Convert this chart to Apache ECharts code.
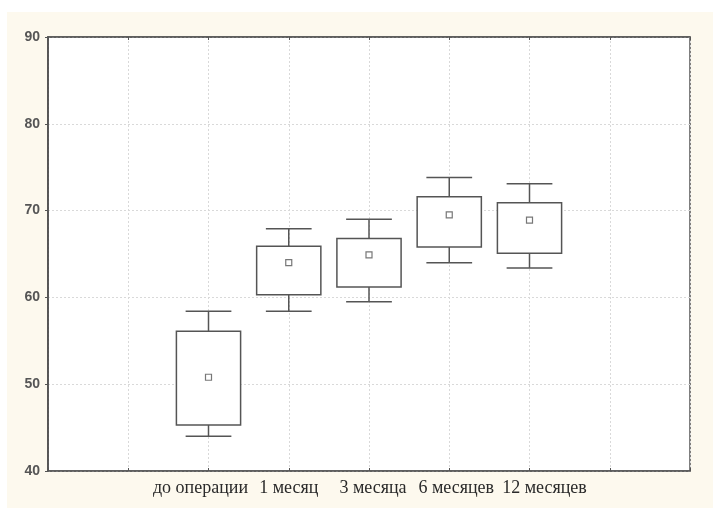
<!DOCTYPE html>
<html>
<head>
<meta charset="utf-8">
<script src="https://cdn.jsdelivr.net/npm/echarts@6/dist/echarts.min.js"></script>
<style>
  html, body { margin: 0; padding: 0; background: #ffffff; }
  #chart { width: 713px; height: 508px; }
</style>
</head>
<body>
<div id="chart"></div>
<script>
// Follow-up groups along the horizontal axis
const categories = ['до операции', '1 месяц', '3 месяца', '6 месяцев', '12 месяцев'];
// Whisker ends, box edges and group means
const whiskerLow  = [44.0, 58.4, 59.5, 64.0, 63.4];
const boxLow      = [45.3, 60.3, 61.2, 65.8, 65.1];
const boxHigh     = [56.1, 65.9, 66.8, 71.6, 70.9];
const whiskerHigh = [58.4, 67.9, 69.0, 73.8, 73.1];
const means       = [50.8, 64.0, 64.9, 69.5, 68.9];
// Value-axis ticks
const yTicks = [40, 50, 60, 70, 80, 90];

// Groups sit at positions 2..6 on a 0..8 horizontal scale
const OFFSET = 2;
const boxData = categories.map((c, i) => [i + OFFSET, whiskerLow[i], boxLow[i], boxHigh[i], whiskerHigh[i]]);
const meanData = categories.map((c, i) => [i + OFFSET, means[i]]);

// small per-label horizontal nudges (px, positive = right)
const labelShift = [-8, 0, 4, 7, 15];
const rich = {};
labelShift.forEach((s, i) => {
  rich['c' + i] = {
    fontFamily: '"Liberation Serif", "Times New Roman", serif',
    fontSize: 18,
    color: '#2a2a2a',
    padding: s >= 0 ? [0, 0, 0, 2 * s] : [0, -2 * s, 0, 0]
  };
});

const LINE = '#555555';
const GRID = '#d9d9d9';

const chart = echarts.init(document.getElementById('chart'));
chart.setOption({
  animation: false,
  backgroundColor: '#ffffff',
  graphic: [{
    type: 'rect',
    z: -100,
    silent: true,
    shape: { x: 7, y: 12, width: 706, height: 496 },
    style: { fill: '#fdf9ee' }
  }],
  grid: {
    left: 48, right: 23, top: 37, bottom: 37,
    show: true,
    backgroundColor: '#ffffff',
    borderColor: LINE,
    borderWidth: 1.5
  },
  xAxis: [{
    type: 'value',
    min: 0, max: 8, interval: 1,
    position: 'bottom',
    axisLine: { show: true, lineStyle: { color: LINE, width: 1.5 } },
    axisTick: { show: true, inside: true, length: 3, lineStyle: { color: LINE } },
    splitLine: { show: true, lineStyle: { color: GRID, type: [2, 2], width: 1 } },
    axisLabel: {
      margin: 8,
      showMinLabel: true, showMaxLabel: true,
      formatter: v => {
        const i = Math.round(v) - OFFSET;
        return categories[i] ? '{c' + i + '|' + categories[i] + '}' : '';
      },
      rich: rich
    }
  }, {
    type: 'value',
    min: 0, max: 8, interval: 1,
    position: 'top',
    axisLine: { show: true, lineStyle: { color: LINE, width: 1.5 } },
    axisTick: { show: true, inside: true, length: 3, lineStyle: { color: LINE } },
    splitLine: { show: false },
    axisLabel: { show: false }
  }],
  yAxis: [{
    type: 'value',
    min: yTicks[0], max: yTicks[yTicks.length - 1], interval: 10,
    position: 'left',
    axisLine: { show: true, lineStyle: { color: LINE, width: 1.5 } },
    axisTick: { show: true, inside: false, length: 3, lineStyle: { color: LINE } },
    splitLine: { show: true, lineStyle: { color: GRID, type: [2, 2], width: 1 } },
    axisLabel: {
      margin: 8,
      fontFamily: '"Liberation Sans", Arial, sans-serif',
      fontSize: 14,
      fontWeight: 'bold',
      color: '#555555'
    }
  }, {
    type: 'value',
    min: yTicks[0], max: yTicks[yTicks.length - 1], interval: 10,
    position: 'right',
    axisLine: { show: true, lineStyle: { color: LINE, width: 1.5 } },
    axisTick: { show: true, inside: true, length: 3, lineStyle: { color: LINE } },
    splitLine: { show: false },
    axisLabel: { show: false }
  }],
  series: [{
    type: 'custom',
    xAxisIndex: 0, yAxisIndex: 0,
    data: boxData,
    renderItem: (params, api) => {
      const x = api.value(0);
      const pLo = api.coord([x, api.value(1)]);
      const pQ1 = api.coord([x, api.value(2)]);
      const pQ3 = api.coord([x, api.value(3)]);
      const pHi = api.coord([x, api.value(4)]);
      const unit = api.size([1, 0])[0];
      const bw = unit * 0.8;
      const cw = unit * 0.57;
      const cx = pQ1[0];
      const st = { stroke: LINE, lineWidth: 1.5, fill: null };
      return {
        type: 'group',
        children: [
          { type: 'line', shape: { x1: cx, y1: pQ3[1], x2: cx, y2: pHi[1] }, style: st },
          { type: 'line', shape: { x1: cx - cw / 2, y1: pHi[1], x2: cx + cw / 2, y2: pHi[1] }, style: st },
          { type: 'line', shape: { x1: cx, y1: pQ1[1], x2: cx, y2: pLo[1] }, style: st },
          { type: 'line', shape: { x1: cx - cw / 2, y1: pLo[1], x2: cx + cw / 2, y2: pLo[1] }, style: st },
          { type: 'rect', shape: { x: cx - bw / 2, y: pQ3[1], width: bw, height: pQ1[1] - pQ3[1] },
            style: { stroke: LINE, lineWidth: 1.5, fill: '#ffffff' } }
        ]
      };
    }
  }, {
    type: 'scatter',
    xAxisIndex: 0, yAxisIndex: 0,
    data: meanData,
    symbol: 'rect',
    symbolSize: 6,
    z: 5,
    itemStyle: { color: '#ffffff', borderColor: LINE, borderWidth: 1.2 }
  }]
});
</script>
</body>
</html>
